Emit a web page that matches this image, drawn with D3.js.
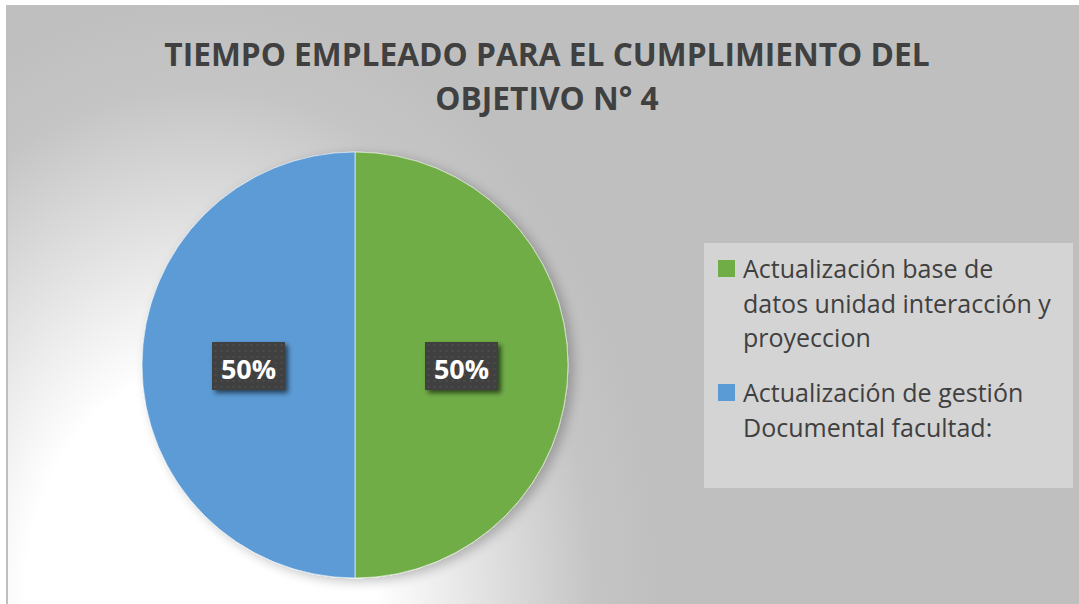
<!DOCTYPE html>
<html><head><meta charset="utf-8">
<script src="https://cdn.jsdelivr.net/npm/d3@7"></script>
<style>html,body{margin:0;padding:0;background:#fff;}svg{display:block;}</style>
</head><body>
<svg id="chart" width="1079" height="604"></svg>
<script>
const titleLines = ["TIEMPO EMPLEADO PARA EL CUMPLIMIENTO DEL", "OBJETIVO N° 4"];
const categories = ["Actualización base de datos unidad interacción y proyeccion", "Actualización de gestión Documental facultad:"];
const legendLines = [["Actualización base de", "datos unidad interacción y", "proyeccion"], ["Actualización de gestión", "Documental facultad:"]];
const values = [50, 50];
const colors = ["#70ad47", "#5b9bd5"];

const svg = d3.select("#chart");
const defs = svg.append("defs");
const rg = defs.append("radialGradient").attr("id","bg").attr("gradientUnits","userSpaceOnUse")
  .attr("cx",0).attr("cy",0).attr("r",1).attr("gradientTransform","translate(200,600) scale(460,600)");
[[0,"#ffffff"],[0.38,"#ffffff"],[0.85,"#c5c5c5"],[1,"#bfbfbf"]].forEach(s=>rg.append("stop").attr("offset",s[0]).attr("stop-color",s[1]));

const sh = defs.append("filter").attr("id","pieShadow").attr("x","-20%").attr("y","-20%").attr("width","140%").attr("height","140%");
sh.append("feGaussianBlur").attr("in","SourceAlpha").attr("stdDeviation",6).attr("result","b");
sh.append("feOffset").attr("in","b").attr("dx",5).attr("dy",3).attr("result","o");
sh.append("feComponentTransfer").attr("in","o").attr("result","o2").append("feFuncA").attr("type","linear").attr("slope",0.25);
const m = sh.append("feMerge"); m.append("feMergeNode").attr("in","o2"); m.append("feMergeNode").attr("in","SourceGraphic");

const lsh = defs.append("filter").attr("id","lblShadow").attr("x","-30%").attr("y","-30%").attr("width","160%").attr("height","160%");
lsh.append("feGaussianBlur").attr("in","SourceAlpha").attr("stdDeviation",2.5).attr("result","b");
lsh.append("feOffset").attr("in","b").attr("dx",3).attr("dy",3).attr("result","o");
lsh.append("feComponentTransfer").attr("in","o").attr("result","o2").append("feFuncA").attr("type","linear").attr("slope",0.6);
const m2 = lsh.append("feMerge"); m2.append("feMergeNode").attr("in","o2"); m2.append("feMergeNode").attr("in","SourceGraphic");

const pat = defs.append("pattern").attr("id","dots").attr("patternUnits","userSpaceOnUse").attr("width",6).attr("height",6);
pat.append("rect").attr("width",6).attr("height",6).attr("fill","#404040");
pat.append("circle").attr("cx",3).attr("cy",3).attr("r",1.1).attr("fill","#4e4e4e");

// chart area
svg.append("rect").attr("x",6).attr("y",5).attr("width",1079).attr("height",610).attr("fill","url(#bg)");
svg.append("line").attr("x1",7).attr("x2",7).attr("y1",5).attr("y2",604).attr("stroke","#bfbfbf").attr("stroke-width",2);

// title
const tg = svg.append("g");
const titleK = 0.96;
titleLines.forEach((t,i)=>{
  const el = tg.append("text").attr("x",547).attr("y",66 + i*44).attr("text-anchor","middle")
    .attr("font-family","'Open Sans', 'Noto Sans', sans-serif").attr("font-weight",700).attr("font-size",33)
    .attr("fill","#404040").text(t);
  const w = el.node().getComputedTextLength();
  el.attr("textLength", w*titleK).attr("lengthAdjust","spacingAndGlyphs");
});

// pie
const cx = 355, cy = 365, r = 213;
const pie = d3.pie().sort(null).value(d=>d.v);
const arc = d3.arc().innerRadius(0).outerRadius(r);
const data = pie(values.map((v,i)=>({v, c:colors[i], name:categories[i]})));
const pg = svg.append("g").attr("transform",`translate(${cx},${cy})`);
pg.append("g").attr("filter","url(#pieShadow)").selectAll("path").data(data).join("path")
  .attr("d",arc).attr("fill",d=>d.data.c).attr("stroke","#ffffff").attr("stroke-width",0.6);

const total = d3.sum(values);
const fmt = d3.format(".0%");
const lg = pg.selectAll("g.lbl").data(data).join("g").attr("class","lbl")
  .attr("transform",d=>{const c=arc.centroid(d); return `translate(${c[0]},${c[1]+1})`;});
lg.append("rect").attr("x",-36.5).attr("y",-24).attr("width",73).attr("height",48).attr("fill","url(#dots)").attr("filter","url(#lblShadow)");
lg.append("text").attr("text-anchor","middle").attr("y",13)
  .attr("font-family","'Open Sans', sans-serif").attr("font-weight",700).attr("font-size",27).attr("fill","#ffffff")
  .text(d=>fmt(d.data.v/total));

// legend
svg.append("rect").attr("x",704).attr("y",243).attr("width",369).attr("height",245).attr("fill","#d4d4d4");
const legK = 1.0;
let y = 278;
legendLines.forEach((lines,i)=>{
  svg.append("rect").attr("x",718).attr("y",y-18).attr("width",17).attr("height",17).attr("fill",colors[i]);
  lines.forEach((t,j)=>{
    const el = svg.append("text").attr("x",743).attr("y",y + j*34.5)
      .attr("font-family","'Open Sans', 'Noto Sans', sans-serif").attr("font-size",25).attr("fill","#404040").text(t);
    const w = el.node().getComputedTextLength();
    el.attr("textLength", w*legK).attr("lengthAdjust","spacingAndGlyphs");
  });
  y += (lines.length-1)*34.5 + 55;
});
</script>
</body></html>
